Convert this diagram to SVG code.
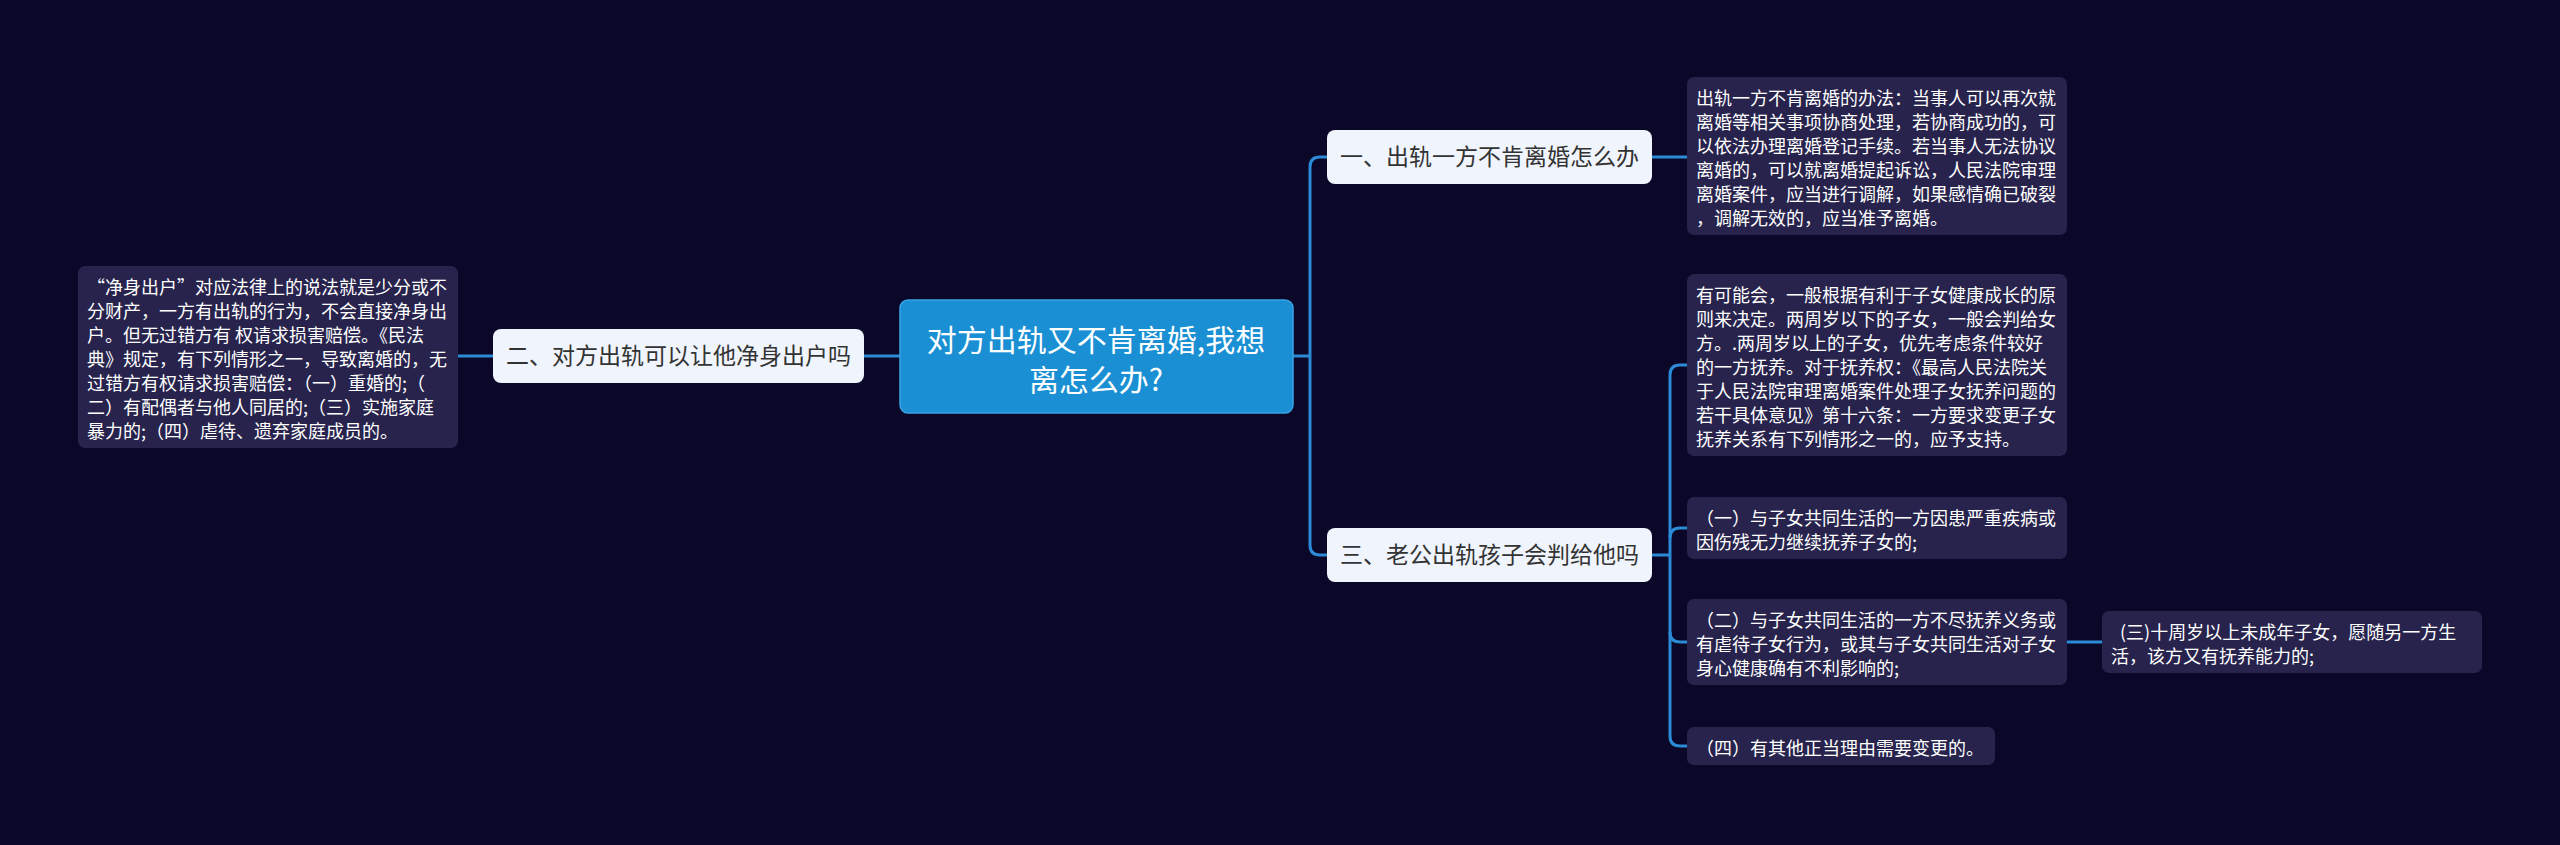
<svg xmlns="http://www.w3.org/2000/svg" width="2560" height="845" viewBox="0 0 2560 845">
<style>
.bg{fill:#0a0729}
.conn{fill:none;stroke:#2b8ad6;stroke-width:3}
.center{fill:#1a8fd3;stroke:#3aa3e6;stroke-width:1.5}
.ctext{font-family:"Noto Sans CJK SC","Noto Sans",sans-serif;font-size:30px;fill:#ffffff;text-anchor:middle}
.node{fill:#f0f4fc}
.ntext{font-family:"Noto Sans CJK SC","Noto Sans",sans-serif;font-size:23px;fill:#333333;text-anchor:middle}
.box{fill:#27234d}
.btext{font-family:"Noto Sans CJK SC","Noto Sans",sans-serif;font-size:18px;fill:#ffffff}
</style>
<rect class="bg" x="0" y="0" width="2560" height="845"/>
<g id="connectors">
<path class="conn" d="M900,356 H864"/>
<path class="conn" d="M493,356 H458"/>
<path class="conn" d="M1293,356 H1310"/>
<path class="conn" d="M1327,157 H1320 Q1310,157 1310,167 V545 Q1310,555 1320,555 H1327"/>
<path class="conn" d="M1652,157 H1687"/>
<path class="conn" d="M1652,555 H1670"/>
<path class="conn" d="M1687,365 H1680 Q1670,365 1670,375 V736 Q1670,746 1680,746 H1687"/>
<path class="conn" d="M1670,538 Q1670,528 1680,528 H1687"/>
<path class="conn" d="M1670,632 Q1670,642 1680,642 H1687"/>
<path class="conn" d="M2067,642 H2102"/>
</g>
<g id="center">
<rect class="center" x="900" y="300" width="393" height="113" rx="8"/>
<text class="ctext" x="1096" y="351">对方出轨又不肯离婚,我想</text>
<text class="ctext" x="1096" y="391">离怎么办?</text>
</g>
<g id="node1">
<rect class="node" x="1327" y="130" width="325" height="54" rx="8"/>
<text class="ntext" x="1489.5" y="165">一、出轨一方不肯离婚怎么办</text>
</g>
<g id="node2">
<rect class="node" x="493" y="329" width="371" height="54" rx="8"/>
<text class="ntext" x="678.5" y="364">二、对方出轨可以让他净身出户吗</text>
</g>
<g id="node3">
<rect class="node" x="1327" y="528" width="325" height="54" rx="8"/>
<text class="ntext" x="1489.5" y="563">三、老公出轨孩子会判给他吗</text>
</g>
<g id="leftbox">
<rect class="box" x="78" y="266" width="380" height="182" rx="7"/>
<text class="btext" x="87" y="294">“净身出户”对应法律上的说法就是少分或不</text>
<text class="btext" x="87" y="318">分财产，一方有出轨的行为，不会直接净身出</text>
<text class="btext" x="87" y="342">户。但无过错方有 权请求损害赔偿。《民法</text>
<text class="btext" x="87" y="366">典》规定，有下列情形之一，导致离婚的，无</text>
<text class="btext" x="87" y="390">过错方有权请求损害赔偿：（一）重婚的;（</text>
<text class="btext" x="87" y="414">二）有配偶者与他人同居的;（三）实施家庭</text>
<text class="btext" x="87" y="438">暴力的;（四）虐待、遗弃家庭成员的。</text>
</g>
<g id="box1">
<rect class="box" x="1687" y="77" width="380" height="158" rx="7"/>
<text class="btext" x="1696" y="105">出轨一方不肯离婚的办法：当事人可以再次就</text>
<text class="btext" x="1696" y="129">离婚等相关事项协商处理，若协商成功的，可</text>
<text class="btext" x="1696" y="153">以依法办理离婚登记手续。若当事人无法协议</text>
<text class="btext" x="1696" y="177">离婚的，可以就离婚提起诉讼，人民法院审理</text>
<text class="btext" x="1696" y="201">离婚案件，应当进行调解，如果感情确已破裂</text>
<text class="btext" x="1696" y="225">，调解无效的，应当准予离婚。</text>
</g>
<g id="boxA">
<rect class="box" x="1687" y="274" width="380" height="182" rx="7"/>
<text class="btext" x="1696" y="302">有可能会，一般根据有利于子女健康成长的原</text>
<text class="btext" x="1696" y="326">则来决定。两周岁以下的子女，一般会判给女</text>
<text class="btext" x="1696" y="350">方。.两周岁以上的子女，优先考虑条件较好</text>
<text class="btext" x="1696" y="374">的一方抚养。对于抚养权：《最高人民法院关</text>
<text class="btext" x="1696" y="398">于人民法院审理离婚案件处理子女抚养问题的</text>
<text class="btext" x="1696" y="422">若干具体意见》第十六条：一方要求变更子女</text>
<text class="btext" x="1696" y="446">抚养关系有下列情形之一的，应予支持。</text>
</g>
<g id="boxB1">
<rect class="box" x="1687" y="497" width="380" height="62" rx="7"/>
<text class="btext" x="1696" y="525">（一）与子女共同生活的一方因患严重疾病或</text>
<text class="btext" x="1696" y="549">因伤残无力继续抚养子女的;</text>
</g>
<g id="boxB2">
<rect class="box" x="1687" y="599" width="380" height="86" rx="7"/>
<text class="btext" x="1696" y="627">（二）与子女共同生活的一方不尽抚养义务或</text>
<text class="btext" x="1696" y="651">有虐待子女行为，或其与子女共同生活对子女</text>
<text class="btext" x="1696" y="675">身心健康确有不利影响的;</text>
</g>
<g id="boxB3">
<rect class="box" x="2102" y="611" width="380" height="62" rx="7"/>
<text class="btext" x="2120" y="639">(三)十周岁以上未成年子女，愿随另一方生</text>
<text class="btext" x="2111" y="663">活，该方又有抚养能力的;</text>
</g>
<g id="boxB4">
<rect class="box" x="1687" y="727" width="308" height="38" rx="7"/>
<text class="btext" x="1696" y="755">（四）有其他正当理由需要变更的。</text>
</g>
</svg>
